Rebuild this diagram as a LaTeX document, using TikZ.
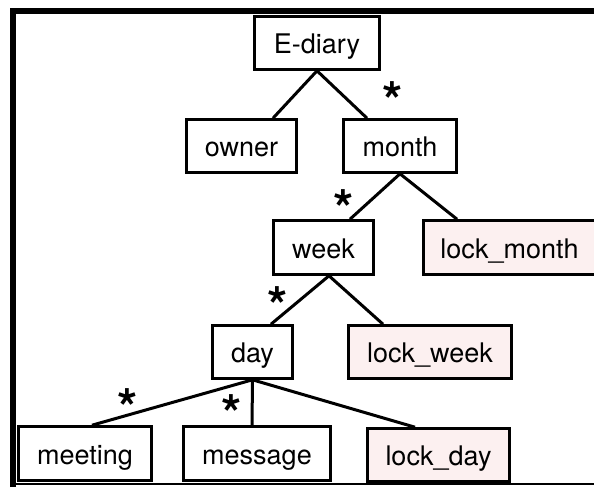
\documentclass[tikz,border=0pt]{standalone}
\usepackage{fontspec}
\setmainfont{TeX Gyre Heros}
\usetikzlibrary{positioning}
\definecolor{lockfill}{RGB}{252,240,240}

\begin{document}
\begin{tikzpicture}[x=1pt, y=-1pt,
  box/.style={draw, line width=2.6pt, minimum height=53pt, inner sep=0pt,
    text height=27pt, text depth=6pt, font=\fontsize{27}{30}\selectfont},
  lock/.style={box, fill=lockfill},
  link/.style={line width=3pt},
  many/.style={font=\fontsize{52}{52}\bfseries\selectfont, inner sep=0pt, anchor=base}]
\useasboundingbox (0,0) rectangle (594,487);
% frame
\draw[line width=6pt] (13,487) -- (13,11) -- (594,11);
\draw[line width=2.5pt] (10,484) -- (594,484);

\node[box, minimum width=125pt] (diary) at (317,43) {E-diary};
\node[box, minimum width=110pt] (owner) at (241.5,146) {owner};
\node[box, minimum width=113pt] (month) at (400,146) {month};
\node[box, minimum width=100pt, minimum height=54pt] (week) at (323.5,247.5) {week};
\node[lock, minimum width=172pt, minimum height=54pt] (lockmonth) at (509.5,247.5) {lock\_month};
\node[box, minimum width=80pt] (day) at (252.5,352) {day};
\node[lock, minimum width=163pt] (lockweek) at (430,352) {lock\_week};
\node[box, minimum width=133pt, minimum height=54pt] (meeting) at (85,453.5) {meeting};
\node[box, minimum width=147pt, minimum height=54pt] (message) at (257,453.5) {message};
\node[lock, minimum width=142pt] (lockday) at (438.5,455) {lock\_day};

\draw[link] (diary.south) -- ([xshift=31.5pt]owner.north);
\draw[link] (diary.south) -- ([xshift=-33pt]month.north);
\draw[link] (month.south) -- ([xshift=26.5pt]week.north);
\draw[link] (month.south) -- ([xshift=-52.5pt]lockmonth.north);
\draw[link] ([xshift=5.5pt]week.south) -- ([xshift=18.5pt]day.north);
\draw[link] ([xshift=5.5pt]week.south) -- ([xshift=-47pt]lockweek.north);
\draw[link] (day.south) -- ([xshift=7pt]meeting.north);
\draw[link] (day.south) -- ([xshift=-5pt]message.north);
\draw[link] (day.south) -- ([xshift=-23.5pt]lockday.north);

% multiplicity marks
\node[many] (m1) at (393,119) {*};
\node[many] (m2) at (344,227) {*};
\node[many] (m3) at (278,324) {*};
\node[many] (m4) at (128,426) {*};
\node[many] (m5) at (232,432) {*};
\end{tikzpicture}
\end{document}
